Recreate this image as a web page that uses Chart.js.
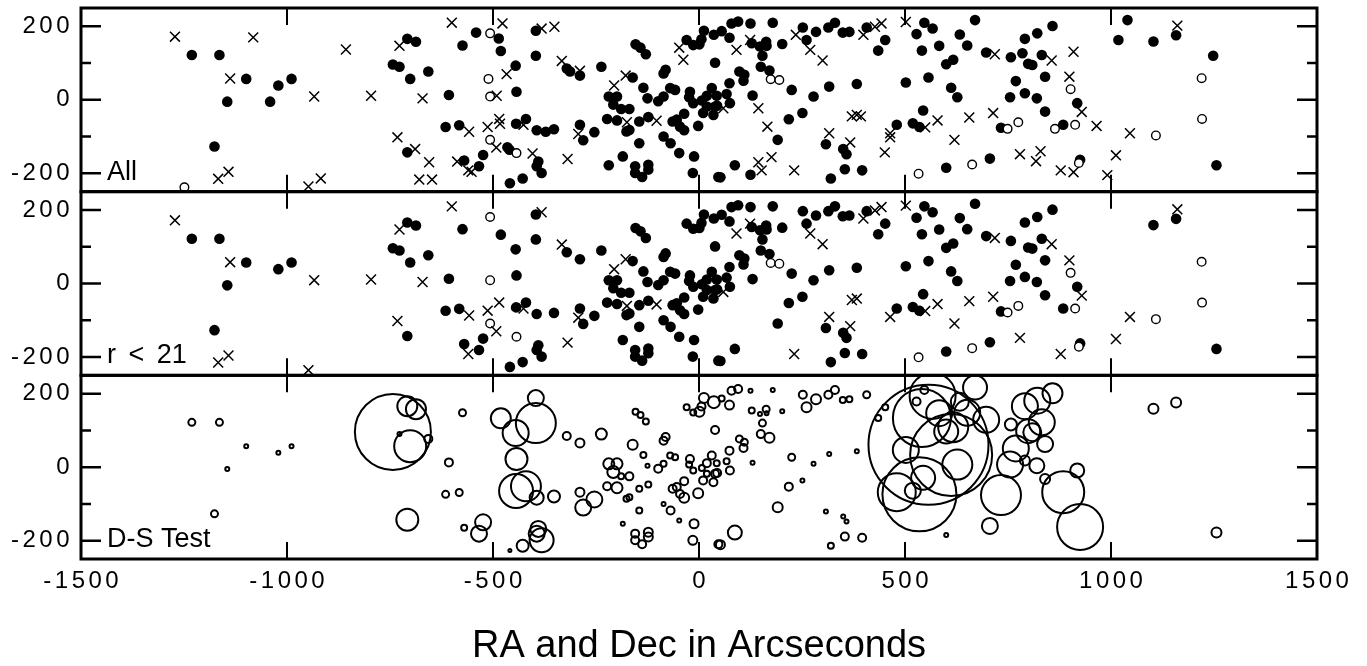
<!DOCTYPE html>
<html>
<head>
<meta charset="utf-8">
<title>RA and Dec in Arcseconds</title>
<script src="https://cdn.jsdelivr.net/npm/chart.js@4.4.1/dist/chart.umd.min.js"></script>
<style>
  html, body { margin: 0; padding: 0; background: #fff; }
  #wrap { width: 1367px; height: 666px; }
</style>
</head>
<body>
<div id="wrap"><canvas id="chart" width="1367" height="666"></canvas></div>
<script>
// ── Data: offsets from the cluster centre, arcsec ──────────────
// bright (r < 21) members with a redshift, drawn as filled dots
const brightMembers = [
  [-1231,122],[-1164,122],[-1099,57],[-1145,-5],[-1021,39],[-989,57],[-1176,-127],[-743,96],[-727,90],[-708,166],
  [-687,158],[-701,57],[-708,-143],[-657,77],[-607,13],[-574,148],[-615,-74],[-582,-69],[-570,-165],[-534,-181],
  [-524,-150],[-481,133],[-445,93],[-443,22],[-444,-65],[-420,-52],[-396,188],[-396,120],[-394,-83],[-352,-80],
  [-390,-168],[-394,-181],[-382,-199],[-428,-214],[-459,-227],[-321,85],[-289,66],[-237,90],[-289,-68],[-281,-110],
  [-254,-88],[-154,151],[-142,142],[-129,124],[-161,61],[-135,33],[-81,82],[-86,72],[-219,9],[-199,9],
  [-208,-13],[-189,-25],[-169,-25],[-125,4],[-99,-4],[-86,9],[-70,32],[-58,27],[-223,-52],[-199,-56],
  [-169,-82],[-176,-86],[-145,-59],[-123,-47],[-64,-59],[-54,-54],[-46,-73],[-36,-83],[-145,-118],[-86,-100],
  [-69,-118],[-48,-145],[-12,-154],[-15,-199],[47,-210],[-185,-154],[-155,-181],[-123,-177],[-123,-190],[-155,-199],
  [-138,-210],[-30,163],[-14,149],[1,151],[6,165],[12,188],[36,177],[39,101],[-22,22],[-24,7],
  [-14,-9],[7,-2],[19,11],[31,32],[19,-18],[39,-18],[35,-41],[10,-36],[-36,-38],[-2,-71],
  [55,187],[79,208],[95,213],[125,208],[179,210],[74,169],[128,154],[148,145],[163,158],[164,147],
  [202,152],[154,120],[150,90],[171,80],[98,77],[110,68],[108,52],[74,45],[43,11],[67,16],
  [75,-9],[44,-16],[130,12],[225,27],[278,9],[316,36],[383,43],[252,197],[261,163],[284,185],
  [314,197],[330,210],[349,183],[365,185],[407,197],[435,134],[452,163],[218,-53],[251,-36],[191,-109],
  [308,-121],[350,-134],[358,-148],[52,-211],[87,-178],[320,-214],[354,-189],[396,-192],[528,179],[547,210],
  [567,194],[541,134],[583,147],[633,178],[651,148],[670,217],[697,129],[600,97],[617,109],[502,47],
  [557,61],[612,33],[627,7],[480,-68],[519,-64],[535,-74],[544,-29],[733,-76],[600,-185],[706,-160],
  [757,116],[791,166],[799,98],[769,51],[755,7],[791,18],[821,181],[858,201],[832,122],[809,95],
  [840,63],[820,4],[840,-32],[918,-9],[884,-68],[925,-163],[1103,159],[1158,176],[1256,-178]
];

// Dressler-Shectman delta of each bright member, same order as above
const dsDelta = [
  .7,.7,.4,.4,.4,.4,.7,7.6,.4,2,
  2,3.2,2.2,.8,.8,.7,.7,.7,.6,1.6,
  1.6,2,2.6,2.2,3.4,3,1.6,4,1.4,1.2,
  1.6,1.6,2.4,1.2,.3,.8,.9,1.1,.9,1.6,
  1.6,.6,.6,.6,1,.6,.8,.8,1.1,1.1,
  1.2,.6,.8,.4,.8,.6,.6,.6,.8,1.1,
  .6,.6,.6,.6,.8,.8,.8,1,.6,.4,
  .8,.4,.9,.9,.8,.4,.8,.9,.9,.8,
  .8,.6,.6,1,.8,1,1.2,.8,.8,.6,
  .6,.6,.8,.8,.6,.8,.8,.8,.8,1,
  .6,.8,.8,.4,.4,.9,.6,.4,.7,.4,
  .4,.7,.8,1,.7,.7,.8,.8,.6,.6,
  .8,.8,.4,.7,.4,.4,.4,.8,1,1,
  .8,.8,.6,.6,.7,.6,.6,.8,.4,1,
  .4,.4,.4,.9,1.4,.6,.8,.8,.8,.8,
  4.6,5.8,2.6,1.8,2.6,2.4,2.6,2.4,3,2.6,
  12,8.2,3,3.8,1.6,7.4,2.4,4,.4,1.6,
  1.2,2.6,2.4,2.6,2.6,1,2.6,2,2.6,1.8,
  1.6,1.5,1,1.4,4.2,4.6,1,1,1
];

// bright galaxies with uncertain membership (open circles)
const brightOther = [
  [-507,181],[-507,9],[-507,-109],[-443,-145],[174,56],[195,54],[749,-79],[775,-61],
  [663,-176],[533,-201],[902,29],[913,-68],[922,-172],[1220,59],[1221,-52],[1109,-97]
];

// bright non-members (crosses)
const brightNonMembers = [
  [-1272,172],[-1138,58],[-934,9],[-796,11],[-727,147],[-732,-102],[-1167,-215],[-1142,-196],[-948,-236],[-600,210],
  [-382,194],[-333,106],[-178,66],[-206,39],[-671,4],[-558,-87],[-513,-74],[-485,-52],[-426,-68],[-560,-192],
  [-492,-130],[-319,-161],[-293,-93],[-175,-61],[-103,-57],[91,136],[124,163],[270,136],[300,107],[399,177],
  [427,199],[443,208],[502,212],[718,124],[59,-23],[371,-45],[383,-41],[316,-91],[367,-116],[464,-91],
  [549,-75],[579,-56],[620,-109],[656,-48],[714,-36],[779,-148],[231,-192],[856,107],[899,63],[929,-33],
  [1046,-91],[1012,-151],[1161,202],[878,-192]
];

// fainter objects, only in the "All" panel
const faintMembers = [
  [-1041,-5],[-541,183],[-313,77],[-372,-87],[-465,-129],[-460,-136],[-219,-178],
  [-486,167],[785,127],[125,-204],[1040,217],[1018,163],[1248,120]
];
const faintOther = [[-1249,-238],[-511,57],[864,-79]];
const faintNonMembers = [
  [-1082,170],[-857,137],[-918,-214],[-477,208],[-351,199],[-289,79],[-467,70],[-48,142],[-38,109],[-491,11],
  [-483,-65],[-689,-134],[-655,-170],[-587,-168],[-552,-196],[-404,-146],[-679,-217],[-648,-217],[235,177],[144,-23],
  [166,-73],[393,-45],[464,-102],[451,-143],[144,-170],[152,-192],[176,-156],[909,131],[965,-71],[991,-205],
  [829,-140],[818,-167],[909,-197]
];

const X_TICKS = [-1500, -1000, -500, 0, 500, 1000, 1500];
const Y_TICKS = [-200, -100, 0, 100, 200];
const Y_LABELS = [-200, 0, 200];

// ── Look ──────────────────────────────────────────────────────
const FONT = '"Liberation Sans", Arial, Helvetica, sans-serif';
const TICK_FONT = { family: FONT, size: 24 };
const TICK_SPACING = 3.5;   // tick labels are letter-spaced
const DS_SCALE = 5;         // px of circle radius per unit delta

const PANELS = [
  { id: 'yAll',    label: 'All',      weight: 3 },
  { id: 'yBright', label: 'r < 21',   weight: 2, wordSpacing: '5px' },
  { id: 'yDS',     label: 'D-S Test', weight: 1 }
];

const pts = list => list.map(([x, y]) => ({ x, y }));

function dots(list, yAxisID) {
  return { type: 'scatter', data: pts(list), yAxisID, clip: 0,
    pointStyle: 'circle', pointRadius: 5.3, pointBackgroundColor: '#000', pointBorderWidth: 0 };
}
function rings(list, yAxisID) {
  return { type: 'scatter', data: pts(list), yAxisID, clip: 0,
    pointStyle: 'circle', pointRadius: 4.3, pointBackgroundColor: '#fff',
    pointBorderColor: '#000', pointBorderWidth: 1.4 };
}
function crosses(list, yAxisID) {
  return { type: 'scatter', data: pts(list), yAxisID, clip: 0,
    pointStyle: 'crossRot', pointRadius: 7, pointBorderColor: '#000', pointBorderWidth: 1.5 };
}

const datasets = [
  crosses(brightNonMembers.concat(faintNonMembers), 'yAll'),
  rings(brightOther.concat(faintOther), 'yAll'),
  dots(brightMembers.concat(faintMembers), 'yAll'),
  crosses(brightNonMembers, 'yBright'),
  rings(brightOther, 'yBright'),
  dots(brightMembers, 'yBright'),
  {
    type: 'bubble', yAxisID: 'yDS', clip: 0,
    data: brightMembers.map(([x, y], i) => ({ x, y, r: dsDelta[i] * DS_SCALE })),
    backgroundColor: 'rgba(0,0,0,0)', borderColor: '#000', borderWidth: 2
  }
];

function panelScale(p) {
  return {
    type: 'linear', position: 'left', stack: 'panels', stackWeight: 1, weight: p.weight,
    min: -250, max: 250,
    grid: { display: false, drawTicks: false }, border: { display: false },
    afterBuildTicks: s => { s.ticks = Y_LABELS.map(v => ({ value: v })); },
    afterFit: s => { s.width = 81; s.paddingTop = 0; s.paddingBottom = 0; },
    ticks: { callback: v => String(v), color: '#000', padding: 8, font: TICK_FONT }
  };
}

const scales = {
  x: {
    type: 'linear', position: 'bottom', min: -1500, max: 1500,
    grid: { display: false, drawTicks: false }, border: { display: false },
    afterBuildTicks: s => { s.ticks = X_TICKS.map(v => ({ value: v })); },
    afterFit: s => { s.height = 107; s.paddingLeft = 0; s.paddingRight = 0; },
    ticks: { callback: v => String(v), color: '#000', padding: 8, maxRotation: 0,
             autoSkip: false, labelOffset: TICK_SPACING / 2, font: TICK_FONT }
  }
};
PANELS.forEach(p => { scales[p.id] = panelScale(p); });

// ── Plugins ───────────────────────────────────────────────────
// letter spacing only while the scales draw their labels
const spacedTicks = {
  id: 'spacedTicks',
  beforeDraw(chart) { chart.ctx.letterSpacing = TICK_SPACING + 'px'; },
  beforeDatasetsDraw(chart) { chart.ctx.letterSpacing = '0px'; }
};

// boxed panels with inward ticks, panel names and the axis title
const panelFrame = {
  id: 'panelFrame',
  afterDatasetsDraw(chart) {
    const { ctx, scales } = chart;
    const xs = scales.x;
    ctx.save();
    ctx.letterSpacing = '0px';
    ctx.strokeStyle = '#000';
    ctx.fillStyle = '#000';
    PANELS.forEach(p => {
      const ys = scales[p.id];
      const left = xs.left, right = xs.right, top = ys.top, bottom = ys.bottom;

      ctx.lineWidth = 2;
      ctx.beginPath();
      X_TICKS.slice(1, -1).forEach(v => {
        const px = xs.getPixelForValue(v);
        ctx.moveTo(px, top); ctx.lineTo(px, top + 17);
        ctx.moveTo(px, bottom); ctx.lineTo(px, bottom - 17);
      });
      ctx.stroke();

      ctx.lineWidth = 2.5;
      ctx.beginPath();
      Y_TICKS.forEach(v => {
        const py = ys.getPixelForValue(v);
        const len = v % 200 === 0 ? 20 : 10;
        ctx.moveTo(left, py); ctx.lineTo(left + len, py);
        ctx.moveTo(right, py); ctx.lineTo(right - len, py);
      });
      ctx.stroke();

      ctx.lineWidth = 3;
      ctx.strokeRect(left, top, right - left, bottom - top);

      ctx.font = '27px ' + FONT;
      ctx.textAlign = 'left';
      ctx.textBaseline = 'alphabetic';
      ctx.wordSpacing = p.wordSpacing || '0px';
      ctx.fillText(p.label, left + 26, bottom - 12);
      ctx.wordSpacing = '0px';
    });

    ctx.font = '38px ' + FONT;
    ctx.textAlign = 'center';
    ctx.textBaseline = 'middle';
    ctx.fillText('RA and Dec in Arcseconds', (xs.left + xs.right) / 2, 647);
    ctx.restore();
  }
};

new Chart(document.getElementById('chart'), {
  type: 'scatter',
  data: { datasets },
  options: {
    responsive: false,
    animation: false,
    events: [],
    layout: { autoPadding: false, padding: { top: 8, right: 50, bottom: 0, left: 0 } },
    plugins: { legend: { display: false }, tooltip: { enabled: false } },
    scales
  },
  plugins: [spacedTicks, panelFrame]
});
</script>
</body>
</html>
